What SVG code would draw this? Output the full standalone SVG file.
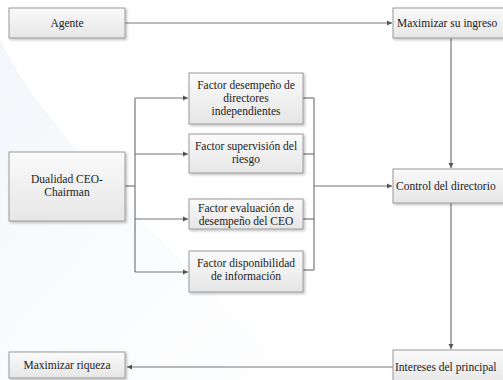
<svg xmlns="http://www.w3.org/2000/svg" width="503" height="380" viewBox="0 0 503 380">
<defs>
<linearGradient id="bf" x1="0" y1="0" x2="0" y2="1">
<stop offset="0" stop-color="#fafafa"/>
<stop offset="1" stop-color="#e6e6e6"/>
</linearGradient>
<linearGradient id="bg" x1="0" y1="0" x2="1" y2="1">
<stop offset="0" stop-color="#e8eff6" stop-opacity="0.8"/>
<stop offset="1" stop-color="#f6f8fb" stop-opacity="0.2"/>
</linearGradient>
<marker id="ah" markerWidth="6" markerHeight="6" refX="5" refY="3" orient="auto" markerUnits="userSpaceOnUse">
<path d="M0,0.5 L5,3 L0,5.5 Z" fill="#555"/>
</marker>
<filter id="sh" x="-5%" y="-5%" width="115%" height="125%">
<feDropShadow dx="1.5" dy="1.5" stdDeviation="0.8" flood-color="#000" flood-opacity="0.25"/>
</filter>
</defs>
<style>
.box{fill:url(#bf);stroke:#9a9a9a;stroke-width:1;filter:url(#sh)}
.t{text-anchor:middle}
.c{fill:none;stroke:#777;stroke-width:1.2}
.a{marker-end:url(#ah)}
</style>
<rect width="503" height="380" fill="#fff"/>
<path d="M0,40 C40,120 120,200 300,380 L0,380 Z" fill="url(#bg)" opacity="0.7"/>
<g id="connectors">
<line class="c a" x1="125" y1="23" x2="392" y2="23"/>
<line class="c a" x1="451" y1="38" x2="451" y2="168"/>
<line class="c" x1="125" y1="186" x2="135" y2="186"/>
<line class="c" x1="135" y1="98" x2="135" y2="272"/>
<line class="c a" x1="135" y1="98" x2="188" y2="98"/>
<line class="c a" x1="135" y1="154" x2="188" y2="154"/>
<line class="c a" x1="135" y1="219" x2="188" y2="219"/>
<line class="c a" x1="135" y1="272" x2="188" y2="272"/>
<line class="c" x1="303" y1="98" x2="314" y2="98"/>
<line class="c" x1="303" y1="154" x2="314" y2="154"/>
<line class="c" x1="303" y1="219" x2="314" y2="219"/>
<line class="c" x1="303" y1="270" x2="314" y2="270"/>
<line class="c" x1="314" y1="98" x2="314" y2="270"/>
<line class="c a" x1="314" y1="186" x2="392" y2="186"/>
<line class="c a" x1="451" y1="203" x2="451" y2="349"/>
<line class="c a" x1="393" y1="367" x2="127" y2="367"/>
</g>
<g font-family="Liberation Serif, Times New Roman, Times, serif" font-size="11.5" fill="#222">
<g id="agente"><rect class="box" x="9" y="8" width="116" height="30"/><text class="t" x="67" y="27">Agente</text></g>
<g id="maximizar-ingreso"><rect class="box" x="393" y="8" width="116" height="30"/><text x="397" y="27">Maximizar su ingreso</text></g>
<g id="factor-desempeno"><rect class="box" x="189" y="73" width="114" height="51"/><text class="t" x="246" y="89">Factor desempeño de</text><text class="t" x="246" y="102">directores</text><text class="t" x="246" y="115">independientes</text></g>
<g id="factor-supervision"><rect class="box" x="189" y="134" width="114" height="39"/><text class="t" x="246" y="150">Factor supervisión del</text><text class="t" x="246" y="163">riesgo</text></g>
<g id="dualidad"><rect class="box" x="9" y="152" width="116" height="69"/><text class="t" x="67" y="183">Dualidad CEO-</text><text class="t" x="67" y="196">Chairman</text></g>
<g id="control"><rect class="box" x="393" y="169" width="116" height="34"/><text x="396" y="190">Control del directorio</text></g>
<g id="factor-evaluacion"><rect class="box" x="189" y="199" width="114" height="30"/><text class="t" x="246" y="212">Factor evaluación de</text><text class="t" x="246" y="225">desempeño del CEO</text></g>
<g id="factor-disponibilidad"><rect class="box" x="189" y="251" width="114" height="41"/><text class="t" x="246" y="267">Factor disponibilidad</text><text class="t" x="246" y="280">de información</text></g>
<g id="intereses"><rect class="box" x="393" y="350" width="116" height="34"/><text x="395" y="371">Intereses del principal</text></g>
<g id="maximizar-riqueza"><rect class="box" x="9" y="352" width="116" height="26"/><text class="t" x="67" y="369">Maximizar riqueza</text></g>
</g>
</svg>
